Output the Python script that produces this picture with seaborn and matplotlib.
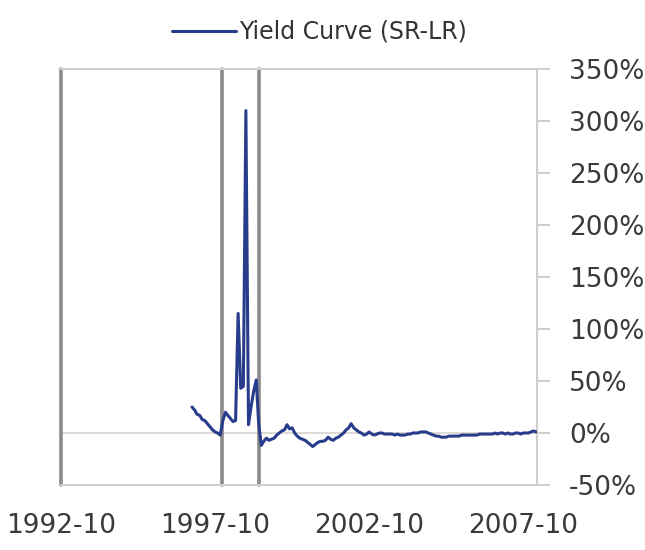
import matplotlib
matplotlib.use("Agg")
import matplotlib.pyplot as plt
import seaborn as sns
import pandas as pd
from matplotlib.lines import Line2D

# ---- data (monthly, from 1997-01) ----
start_month = "1997-01-01"
yield_curve = [
    25, 22, 18, 17, 13, 12, 9, 6, 3, 1, 0, -2,          # 1997
    12, 20, 17, 14, 11, 12, 115, 43, 45, 310, 8, 25,    # 1998
    40, 51, 10, -12, -8, -5, -7, -6, -5, -2, 0, 2,      # 1999
    3, 8, 4, 5, 0, -3, -5, -6, -7, -9, -11, -13,        # 2000
    -11, -9, -8, -8, -7, -4, -6, -7, -5, -4, -2, 0,     # 2001
    3, 5, 9, 5, 3, 1, 0, -2, -1, 1, -1, -2,             # 2002
    -1, 0, 0, -1, -1, -1, -1, -2, -1, -2, -2, -2,       # 2003
    -1, -1, 0, 0, 0, 1, 1, 1, 0, -1, -2, -3,            # 2004
    -3, -4, -4, -4, -3, -3, -3, -3, -3, -2, -2, -2,     # 2005
    -2, -2, -2, -2, -1, -1, -1, -1, -1, -1, 0, -1,      # 2006
    0, 0, -1, 0, -1, -1, 0, 0, -1, 0, 0, 0,             # 2007
    1, 2, 1,                                            # 2008
]
series_name = "Yield Curve (SR-LR)"
marker_dates = ["1992-10-01", "1997-12-20", "1999-03-01"]
x_ticks = ["1992-10-01", "1997-10-01", "2002-10-01", "2007-10-01"]
x_tick_labels = ["1992-10", "1997-10", "2002-10", "2007-10"]
y_ticks = [-50, 0, 50, 100, 150, 200, 250, 300, 350]

dates = pd.date_range(start_month, periods=len(yield_curve), freq="MS")
df = pd.DataFrame({"date": dates, "value": yield_curve, "series": series_name})

# ---- figure ----
sns.set_style("white")
plt.rcParams["font.family"] = ["DejaVu Sans"]
fig = plt.figure(figsize=(6.45, 5.5), dpi=100)
ax = fig.add_axes([61 / 645, 1 - 485 / 550, (537 - 61) / 645, (485 - 69) / 550])

line_color = "#283c8c"
ax.axhline(0, color="#d8d4cc", lw=1.2, zorder=1)
for d in marker_dates:
    ax.axvline(pd.Timestamp(d), color="#8a8a8a", lw=2.6, zorder=2, clip_on=False)

sns.lineplot(data=df, x="date", y="value", hue="series", palette=[line_color],
             lw=2.2, ax=ax, zorder=3, legend=False)

ax.set_xlim(pd.Timestamp("1992-10-01"), pd.Timestamp("2008-03-12"))
ax.set_ylim(-50, 350)

ax.set_xticks([pd.Timestamp(t) for t in x_ticks])
ax.set_xticklabels(x_tick_labels)
ax.set_yticks(y_ticks)
ax.set_yticklabels([f"{v}%" for v in y_ticks])
ax.yaxis.tick_right()
ax.tick_params(axis="y", which="major", direction="out", length=9, width=1.2,
               color="#c8c8c8", labelsize=19, labelcolor="#3a3a3a", pad=14, right=True, left=False)
ax.tick_params(axis="x", length=0, labelsize=19, labelcolor="#3a3a3a", pad=20)
ax.set_xlabel("")
ax.set_ylabel("")

for s in ["top", "bottom", "right"]:
    ax.spines[s].set_color("#cfcfcf")
    ax.spines[s].set_linewidth(1.5)
ax.spines["left"].set_visible(False)

handle = Line2D([0], [0], color=line_color, lw=2.2)
fig.legend([handle], [series_name], loc="center", bbox_to_anchor=(0.495, 1 - 32 / 550),
           frameon=False, fontsize=17, handlelength=2.7, handletextpad=0.12,
           labelcolor="#333333")

fig.savefig("out.png", dpi=100)
